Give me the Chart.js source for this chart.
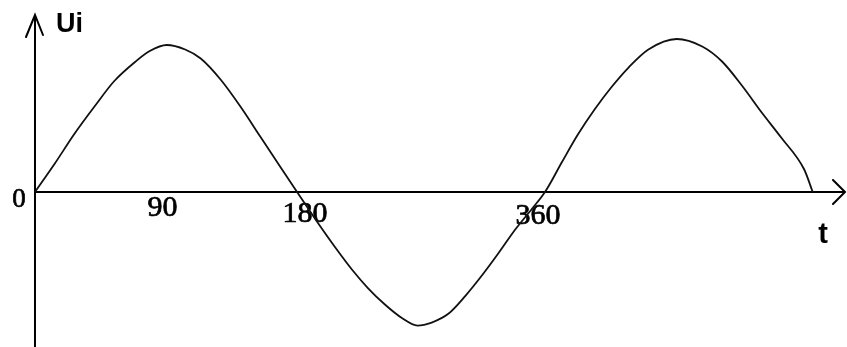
<!DOCTYPE html>
<html>
<head>
<meta charset="utf-8">
<script src="https://cdn.jsdelivr.net/npm/chart.js@4/dist/chart.umd.min.js"></script>
<style>
  html, body { margin: 0; padding: 0; background: #fff; }
  #wrap { width: 847px; height: 347px; }
</style>
</head>
<body>
<div id="wrap"><canvas id="c" width="847" height="347"></canvas></div>
<script>
// phase angle t (degrees)
const tDeg = [0, 14, 28, 42, 56, 71, 81, 93, 106, 117, 131, 145, 159, 173, 185,
    200, 212, 224, 235, 247, 259, 270, 280, 292, 304, 316, 327, 339, 351, 360,
    372, 383, 395, 407, 419, 433, 453, 471, 485, 499, 513, 527, 543, 549];
// Ui values at those angles
const ui = [0, 0.19, 0.39, 0.57, 0.74, 0.87, 0.94, 0.98, 0.95, 0.89, 0.75, 0.57, 0.37, 0.17, 0,
    -0.21, -0.37, -0.52, -0.64, -0.75, -0.84, -0.89, -0.87, -0.81, -0.69, -0.55, -0.41, -0.25, -0.11, 0,
    0.2, 0.38, 0.55, 0.7, 0.83, 0.95, 1.02, 0.97, 0.87, 0.71, 0.53, 0.36, 0.15, 0];
// tick labels on the t axis
const tickLabels = ["0", "90", "180", "360"];
const tickValues = [0, 90, 180, 360];
const axisNames = ["Ui", "t"];

const points = tDeg.map((t, i) => ({ x: t, y: ui[i] }));

// label nudges in px: dx, dy, font size (style only)
const labelNudge = [[-16, 8, 27], [0, 16, 30], [15, 22, 30], [-7, 24, 30]];

const axesPlugin = {
    id: "handAxes",
    beforeDatasetsDraw(chart) {
        const ctx = chart.ctx;
        const xs = chart.scales.x, ys = chart.scales.y;
        const x0 = xs.getPixelForValue(0);
        const y0 = ys.getPixelForValue(0);
        ctx.save();
        ctx.strokeStyle = "#000";
        ctx.lineWidth = 2;
        ctx.lineCap = "round";
        // vertical axis + arrow
        ctx.beginPath();
        ctx.moveTo(x0, chart.height);
        ctx.lineTo(x0, 15);
        ctx.moveTo(x0 - 9, 37);
        ctx.lineTo(x0, 15);
        ctx.lineTo(x0 + 8, 35);
        // horizontal axis + arrow
        ctx.moveTo(x0, y0);
        ctx.lineTo(845, y0);
        ctx.moveTo(833, y0 - 12);
        ctx.lineTo(845, y0);
        ctx.lineTo(833, y0 + 12);
        ctx.stroke();

        ctx.fillStyle = "#000";
        ctx.lineWidth = 0.7;
        ctx.textAlign = "center";
        ctx.textBaseline = "middle";
        tickLabels.forEach((lab, i) => {
            const n = labelNudge[i];
            ctx.font = "normal " + n[2] + "px 'Liberation Serif', serif";
            const px = xs.getPixelForValue(tickValues[i]) + n[0];
            ctx.fillText(lab, px, y0 + n[1]);
            ctx.strokeText(lab, px, y0 + n[1]);
        });
        ctx.font = "bold 27px 'Liberation Sans', Arial, sans-serif";
        ctx.textAlign = "left";
        ctx.textBaseline = "alphabetic";
        ctx.fillText(axisNames[0], x0 + 21, 32);
        ctx.textAlign = "center";
        ctx.font = "bold 29px 'Liberation Sans', Arial, sans-serif";
        ctx.fillText(axisNames[1], 823, 243);
        ctx.restore();
    }
};

new Chart(document.getElementById("c").getContext("2d"), {
    type: "line",
    data: {
        datasets: [{
            label: "Ui",
            data: points,
            borderColor: "#111",
            borderWidth: 1.8,
            pointRadius: 0,
            cubicInterpolationMode: "monotone",
            fill: false,
            clip: false
        }]
    },
    options: {
        responsive: false,
        animation: false,
        events: [],
        layout: { padding: 0 },
        plugins: { legend: { display: false }, tooltip: { enabled: false } },
        scales: {
            x: { type: "linear", display: false, min: -24.7, max: 573.2 },
            y: { type: "linear", display: false, min: -1.033, max: 1.28 }
        }
    },
    plugins: [axesPlugin]
});
</script>
</body>
</html>
